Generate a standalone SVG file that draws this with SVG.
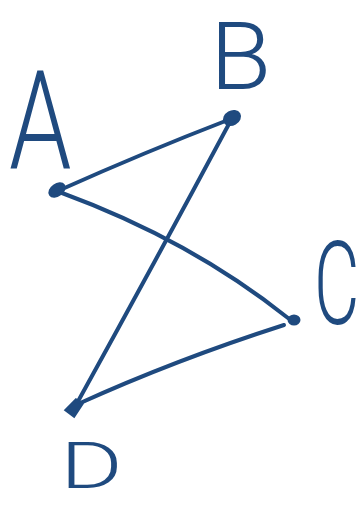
<svg xmlns="http://www.w3.org/2000/svg" width="362" height="505" viewBox="0 0 362 505">
<style>
.e{fill:none;stroke:#1f4a7f;stroke-width:4;stroke-linecap:round;stroke-linejoin:round}
.n{fill:#1f4a7f;stroke:#1f4a7f;stroke-width:3}
.l{font-family:Roboto,"Liberation Sans",Arial,sans-serif;font-weight:300;fill:#1f4a7f}
</style>
<rect width="362" height="505" fill="#fff"/>
<g id="connectors">
<path class="e" d="M60,190 Q145,152 228,120"/>
<path class="e" d="M62,193 Q190,240 288,318"/>
<path class="e" d="M230,122 Q155,262 76,405"/>
<path class="e" d="M78,404 Q175,360 284,325"/>
</g>
<g id="A"><ellipse class="n" cx="57" cy="190" rx="8" ry="5" transform="rotate(-35 57 190)"/><text class="l" font-size="100" transform="translate(9,168) scale(1,1.38)">A</text></g>
<g id="B"><ellipse class="n" cx="232" cy="118" rx="8" ry="6" transform="rotate(-30 232 118)"/><text class="l" font-size="100" transform="translate(210,89) scale(1,0.94)">B</text></g>
<g id="C"><ellipse class="n" cx="294" cy="320" rx="5" ry="4" fill="none"/><text class="l" font-size="70" transform="translate(314,324) scale(1,1.68)">C</text></g>
<g id="D"><path class="n" d="M66,410 L76,400 L82,404 L74,416 Z"/><text class="l" font-size="80" transform="translate(60,488) scale(1.2,0.81)">D</text></g>
</svg>
